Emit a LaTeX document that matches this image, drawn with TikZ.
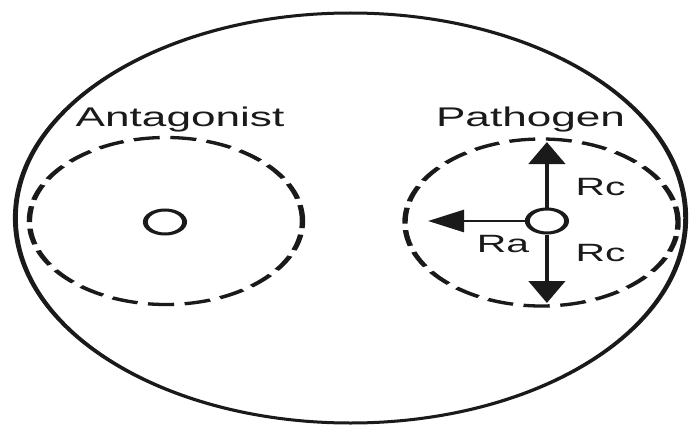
\documentclass[tikz,border=0pt]{standalone}
\usepackage{fontspec}
\setmainfont{Liberation Sans}
\usetikzlibrary{arrows.meta}
\definecolor{ink}{HTML}{1A1A1A}
\begin{document}
\begin{tikzpicture}[x=1pt,y=-1pt,
  rim/.style={draw=ink, line width=3pt, circle, inner sep=0pt, minimum size=410pt},
  zone/.style={draw=ink, line width=3.3pt, dash pattern=on 16pt off 6.5pt, circle, inner sep=0pt, minimum size=167pt},
  cell/.style={draw=ink, line width=3pt, circle, inner sep=0pt, minimum size=24pt, fill=white},
  title/.style={font=\fontsize{27}{30}\selectfont, text=ink, inner sep=0pt, anchor=base},
  lab/.style={font=\fontsize{25}{28}\selectfont, text=ink, inner sep=0pt, anchor=base},
  ray/.style={draw=ink, line width=2.8pt, -{Triangle[length=22pt,width=22pt]}}]
\fill[white] (0,0) rectangle (696,428);
\useasboundingbox (0,0) rectangle (696,428);
\begin{scope}[transform canvas={xscale=1.635}]
  \node[rim] (plate) at (214.4,218) {};
  \node[zone] (azone) at (101.5,221) {};
  \node[zone] (pzone) at (331.2,222.5) {};
  \node[cell] (ant) at (100.9,222) {};
  \node[cell] (pat) at (334.5,221) {};
  \coordinate (tup) at (334.5,142);
  \coordinate (tdown) at (334.5,303);
  \coordinate (tleft) at (261.8,221);
  \draw[ray] (pat.north) -- (tup);
  \draw[ray] (pat.south) -- (tdown);
  \draw[ray] (pat.west) -- (tleft);
  \node[title] (antlabel) at (110.1,126) {Antagonist};
  \node[title] (patlabel) at (324.5,126) {Pathogen};
  \node[lab] (rcup) at (367.3,195) {Rc};
  \node[lab] (rcdown) at (367.3,261) {Rc};
  \node[lab] (ra) at (307.6,252) {Ra};
\end{scope}
\end{tikzpicture}
\end{document}
